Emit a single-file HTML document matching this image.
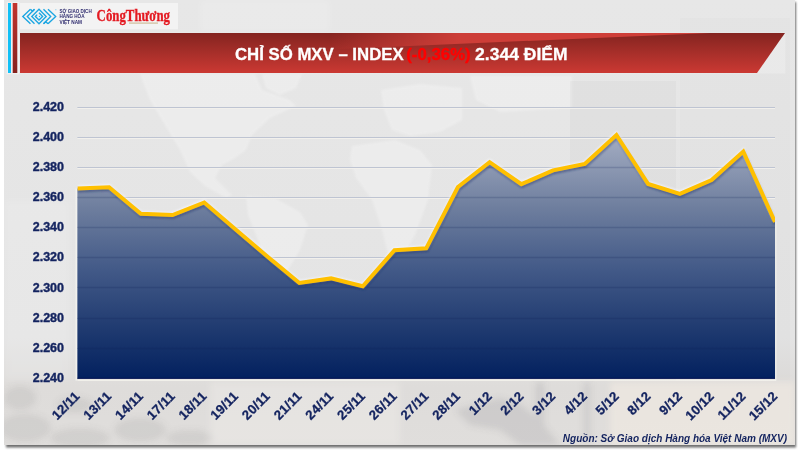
<!DOCTYPE html>
<html><head><meta charset="utf-8"><style>
html,body{margin:0;padding:0;background:#fff;}
body{width:800px;height:450px;overflow:hidden;}
svg{display:block;font-family:"Liberation Sans",sans-serif;will-change:transform;}
</style></head><body>
<svg width="800" height="450" viewBox="0 0 800 450">
<defs>
<linearGradient id="area" x1="0" y1="135" x2="0" y2="378" gradientUnits="userSpaceOnUse">
<stop offset="0" stop-color="#A4ADC2"/>
<stop offset="0.3" stop-color="#6E7E9E"/>
<stop offset="0.55" stop-color="#435A88"/>
<stop offset="0.8" stop-color="#1F3A70"/>
<stop offset="1" stop-color="#03215F"/>
</linearGradient>
<linearGradient id="banner" x1="0" y1="33" x2="0" y2="73" gradientUnits="userSpaceOnUse">
<stop offset="0" stop-color="#842420"/>
<stop offset="1" stop-color="#CB3933"/>
</linearGradient>
<linearGradient id="wedge" x1="330" y1="0" x2="700" y2="0" gradientUnits="userSpaceOnUse">
<stop offset="0" stop-color="#D4403A" stop-opacity="0"/>
<stop offset="0.35" stop-color="#D4403A" stop-opacity="0.9"/>
<stop offset="1" stop-color="#D4403A" stop-opacity="0.95"/>
</linearGradient>
<linearGradient id="redbar" x1="0" y1="0" x2="0" y2="1">
<stop offset="0" stop-color="#C2342E"/>
<stop offset="1" stop-color="#84221E"/>
</linearGradient>
<linearGradient id="bgv" x1="0" y1="0" x2="0" y2="450" gradientUnits="userSpaceOnUse">
<stop offset="0" stop-color="#E7E7E7"/>
<stop offset="0.75" stop-color="#E4E4E4"/>
<stop offset="0.86" stop-color="#DEDCDA"/>
<stop offset="1" stop-color="#E0DEDC"/>
</linearGradient>
<clipPath id="areaclip"><path d="M77.4,378.6 L77.4,188.6 L109.11,187.2 L140.82,213.8 L172.53,215.0 L204.24,202.5 L235.95,229.7 L267.65,256.7 L299.36,283.0 L331.07,278.4 L362.78,286.3 L394.49,250.3 L426.2,248.3 L457.91,187.0 L489.62,162.2 L521.33,184.2 L553.04,170.4 L584.75,164.0 L616.45,135.0 L648.16,184.0 L679.87,193.8 L711.58,180.0 L743.29,151.6 L775.0,222.0 L775.0,378.6 Z"/></clipPath>
<clipPath id="plotclip"><rect x="77.4" y="100" width="697.6" height="290"/></clipPath>
<clipPath id="cardclip"><rect x="4" y="0" width="791" height="445"/></clipPath>
<filter id="blur1" x="-5%" y="-20%" width="110%" height="140%"><feGaussianBlur stdDeviation="0.8"/></filter>
<filter id="blur3" x="-20%" y="-20%" width="140%" height="140%"><feGaussianBlur stdDeviation="3"/></filter>
</defs>
<!-- card shadow -->
<rect x="6" y="2" width="790" height="445.5" fill="#6E6E6E" filter="url(#blur1)"/>
<rect x="4" y="0" width="791" height="445" fill="url(#bgv)"/>
<g clip-path="url(#cardclip)">
<g fill="#FFFFFF" opacity="0.27" filter="url(#blur1)">
<path d="M140,74 L255,74 L262,90 L290,100 L296,106 L270,118 L252,135 L246,150 L232,160 L222,165 L215,178 L232,195 L226,198 L205,186 L190,172 L180,150 L165,125 L150,100 Z"/>
<path d="M262,74 L302,74 L296,88 L280,95 L266,88 Z"/>
<path d="M246,196 L275,198 L300,212 L308,225 L300,250 L285,275 L275,298 L268,298 L266,270 L258,240 L248,215 Z"/>
<path d="M381,90 L420,84 L462,88 L462,120 L440,132 L410,136 L392,130 L384,110 Z"/>
<path d="M352,146 L395,140 L420,150 L432,165 L428,200 L415,235 L400,262 L390,262 L382,230 L372,200 L356,178 L350,160 Z"/>
<path d="M470,76 L572,76 L572,108 L500,112 L476,100 Z"/>
</g>
<g fill="#FFFFFF" opacity="0.25" filter="url(#blur3)">
<path d="M200,0 L330,0 L330,32 L200,32 Z" opacity="0.6"/>
<path d="M4,200 L70,200 L70,380 L4,380 Z" opacity="0.5"/>
</g>
<g fill="#000000">
<rect x="570" y="81" width="106" height="300" opacity="0.025"/>
<rect x="680" y="18" width="110" height="362" opacity="0.012"/>
</g>
<g filter="url(#blur3)">
<g fill="#6E6A70" opacity="0.12">
<ellipse cx="25" cy="428" rx="26" ry="14"/>
<ellipse cx="80" cy="438" rx="30" ry="10"/>
<ellipse cx="140" cy="430" rx="26" ry="12"/>
<ellipse cx="20" cy="398" rx="16" ry="12"/>
<ellipse cx="75" cy="405" rx="18" ry="8"/>
<ellipse cx="190" cy="438" rx="24" ry="8"/>
</g>
<rect x="210" y="382" width="190" height="63" fill="#F4F2EE" opacity="0.35"/>
<g fill="#6E6E70" opacity="0.14">
<path d="M455,410 L500,398 L520,404 L540,420 L560,445 L520,445 L500,430 L470,425 Z"/>
<rect x="536" y="382" width="8" height="63"/>
<rect x="584" y="382" width="6" height="60"/>
</g>
<rect x="610" y="382" width="185" height="63" fill="#F8F0E4" opacity="0.45"/>
</g>

</g>
<!-- bars -->
<rect x="6.8" y="2" width="12.6" height="72.2" fill="#F2F4F4" opacity="0.8"/>
<rect x="8" y="3" width="3" height="70" fill="#12C0F6"/>
<rect x="12.7" y="3" width="4.6" height="70" fill="url(#redbar)"/>
<!-- logo box -->
<rect x="20" y="3" width="158" height="26.3" fill="#F3F3F3"/>
<g fill="none" stroke="#1BA6E2" stroke-width="1.35" stroke-linejoin="miter" stroke-linecap="butt">
<polyline points="30.46,9.25 22.8,16.46 30.46,23.67"/>
<polyline points="34.5,9.25 27.3,16.46 34.5,23.67"/>
<polyline points="30.46,9.25 32.5,11.3 34.5,9.25"/>
<polygon points="39.0,9.25 46.2,16.46 39.0,23.67 31.8,16.46"/>
<polyline points="43.5,9.25 50.7,16.46 43.5,23.67"/>
<polyline points="48.0,9.25 55.7,16.46 48.0,23.67"/>
<polyline points="43.5,23.67 45.8,21.64 48.0,23.67"/>
<polyline points="39.0,12.85 42.6,16.46 39.0,20.06 35.4,16.46 37.2,14.6"/>
</g>
<rect x="38.9" y="15.9" width="1.2" height="1.2" fill="#1BA6E2" transform="rotate(45 39.5 16.5)"/>
<rect x="55" y="9.5" width="1.5" height="0.7" fill="#7CC8EA"/>
<g font-weight="bold" font-size="4.9" fill="#2E2B6E">
<text x="59.5" y="13.1" textLength="32.2" lengthAdjust="spacingAndGlyphs">SỞ GIAO DỊCH</text>
<text x="59.5" y="18.3" textLength="25" lengthAdjust="spacingAndGlyphs">HÀNG HÓA</text>
<text x="59.5" y="23.5" textLength="22.5" lengthAdjust="spacingAndGlyphs">VIỆT NAM</text>
</g>
<text x="96.6" y="20.6" font-family="Liberation Serif" font-weight="bold" font-size="17.4" fill="#E41A22" stroke="#E41A22" stroke-width="0.35" textLength="73.4" lengthAdjust="spacingAndGlyphs">CôngThương</text>
<rect x="129" y="22.4" width="29" height="1.4" fill="#CDB894" opacity="0.8"/>
<!-- banner -->
<rect x="19.4" y="32.6" width="766" height="41" fill="#F0F0F0" opacity="0.5"/>
<path d="M20,33 L785,33 L757,73 L20,73 Z" fill="url(#banner)"/>
<path d="M20,33 L710,33 L20,63 Z" fill="url(#wedge)"/>
<g font-size="17" font-weight="bold" stroke-width="0.3">
<text x="235.0" y="59.7" fill="#fff" stroke="#fff" textLength="168.6" lengthAdjust="spacingAndGlyphs">CHỈ SỐ MXV – INDEX</text>
<text x="406.2" y="59.7" fill="#FF0000" stroke="#FF0000" textLength="64.5" lengthAdjust="spacingAndGlyphs">(-0,36%)</text>
<text x="475.1" y="59.7" fill="#fff" stroke="#fff" textLength="92.5" lengthAdjust="spacingAndGlyphs">2.344 ĐIỂM</text>
</g>
<!-- gridlines -->
<g stroke="#BEC4D2" stroke-width="1">
<line x1="77.4" y1="107.5" x2="775.0" y2="107.5"/>
<line x1="77.4" y1="137.5" x2="775.0" y2="137.5"/>
<line x1="77.4" y1="167.5" x2="775.0" y2="167.5"/>
<line x1="77.4" y1="197.5" x2="775.0" y2="197.5"/>
<line x1="77.4" y1="227.5" x2="775.0" y2="227.5"/>
<line x1="77.4" y1="257.5" x2="775.0" y2="257.5"/>
<line x1="77.4" y1="287.5" x2="775.0" y2="287.5"/>
<line x1="77.4" y1="318.5" x2="775.0" y2="318.5"/>
<line x1="77.4" y1="348.5" x2="775.0" y2="348.5"/>
</g>
<g stroke="#F2F0EC" stroke-width="1">
<line x1="77.4" y1="108.5" x2="775.0" y2="108.5"/>
<line x1="77.4" y1="138.5" x2="775.0" y2="138.5"/>
<line x1="77.4" y1="168.5" x2="775.0" y2="168.5"/>
<line x1="77.4" y1="198.5" x2="775.0" y2="198.5"/>
<line x1="77.4" y1="228.5" x2="775.0" y2="228.5"/>
<line x1="77.4" y1="258.5" x2="775.0" y2="258.5"/>
<line x1="77.4" y1="288.5" x2="775.0" y2="288.5"/>
<line x1="77.4" y1="319.5" x2="775.0" y2="319.5"/>
<line x1="77.4" y1="349.5" x2="775.0" y2="349.5"/>
</g>
<rect x="75.60000000000001" y="188.6" width="1.2" height="192.00000000000003" fill="#F4F4F0"/>
<rect x="775.3" y="222.0" width="1.2" height="158.60000000000002" fill="#EEEEEA"/>
<rect x="77.4" y="379.6" width="698.6" height="1.2" fill="#F6F4EE"/>
<path d="M77.4,378.6 L77.4,188.6 L109.11,187.2 L140.82,213.8 L172.53,215.0 L204.24,202.5 L235.95,229.7 L267.65,256.7 L299.36,283.0 L331.07,278.4 L362.78,286.3 L394.49,250.3 L426.2,248.3 L457.91,187.0 L489.62,162.2 L521.33,184.2 L553.04,170.4 L584.75,164.0 L616.45,135.0 L648.16,184.0 L679.87,193.8 L711.58,180.0 L743.29,151.6 L775.0,222.0 L775.0,378.6 Z" fill="url(#area)"/>
<g stroke="#0A1E55" stroke-opacity="0.18" stroke-width="1.3" clip-path="url(#areaclip)">
<line x1="77.4" y1="107.5" x2="775.0" y2="107.5"/>
<line x1="77.4" y1="137.5" x2="775.0" y2="137.5"/>
<line x1="77.4" y1="167.5" x2="775.0" y2="167.5"/>
<line x1="77.4" y1="197.5" x2="775.0" y2="197.5"/>
<line x1="77.4" y1="227.5" x2="775.0" y2="227.5"/>
<line x1="77.4" y1="257.5" x2="775.0" y2="257.5"/>
<line x1="77.4" y1="287.5" x2="775.0" y2="287.5"/>
<line x1="77.4" y1="318.5" x2="775.0" y2="318.5"/>
<line x1="77.4" y1="348.5" x2="775.0" y2="348.5"/>
</g>
<rect x="77.4" y="377.8" width="697.6" height="1" fill="#000F50"/>
<g clip-path="url(#plotclip)">
<polyline points="77.4,188.6 109.11,187.2 140.82,213.8 172.53,215.0 204.24,202.5 235.95,229.7 267.65,256.7 299.36,283.0 331.07,278.4 362.78,286.3 394.49,250.3 426.2,248.3 457.91,187.0 489.62,162.2 521.33,184.2 553.04,170.4 584.75,164.0 616.45,135.0 648.16,184.0 679.87,193.8 711.58,180.0 743.29,151.6 775.0,222.0" fill="none" stroke="#1E2F66" stroke-opacity="0.55" stroke-width="3.5" stroke-linejoin="miter" transform="translate(0.6,1.8)" filter="url(#blur1)"/>
<polyline points="77.4,188.6 109.11,187.2 140.82,213.8 172.53,215.0 204.24,202.5 235.95,229.7 267.65,256.7 299.36,283.0 331.07,278.4 362.78,286.3 394.49,250.3 426.2,248.3 457.91,187.0 489.62,162.2 521.33,184.2 553.04,170.4 584.75,164.0 616.45,135.0 648.16,184.0 679.87,193.8 711.58,180.0 743.29,151.6 775.0,222.0" fill="none" stroke="#F6F8FF" stroke-opacity="0.7" stroke-width="4" stroke-linejoin="miter" transform="translate(0,-1.1)" filter="url(#blur1)"/>
<polyline points="77.4,188.6 109.11,187.2 140.82,213.8 172.53,215.0 204.24,202.5 235.95,229.7 267.65,256.7 299.36,283.0 331.07,278.4 362.78,286.3 394.49,250.3 426.2,248.3 457.91,187.0 489.62,162.2 521.33,184.2 553.04,170.4 584.75,164.0 616.45,135.0 648.16,184.0 679.87,193.8 711.58,180.0 743.29,151.6 775.0,222.0" fill="none" stroke="#FFC000" stroke-width="4" stroke-linejoin="miter"/>
</g>
<g font-size="12.8" font-weight="bold" fill="#13235F" stroke="#13235F" stroke-width="0.42" text-anchor="end">
<text x="64" y="110.6" textLength="31.2" lengthAdjust="spacingAndGlyphs">2.420</text>
<text x="64" y="140.8" textLength="31.2" lengthAdjust="spacingAndGlyphs">2.400</text>
<text x="64" y="170.9" textLength="31.2" lengthAdjust="spacingAndGlyphs">2.380</text>
<text x="64" y="201.0" textLength="31.2" lengthAdjust="spacingAndGlyphs">2.360</text>
<text x="64" y="231.2" textLength="31.2" lengthAdjust="spacingAndGlyphs">2.340</text>
<text x="64" y="261.4" textLength="31.2" lengthAdjust="spacingAndGlyphs">2.320</text>
<text x="64" y="291.5" textLength="31.2" lengthAdjust="spacingAndGlyphs">2.300</text>
<text x="64" y="321.6" textLength="31.2" lengthAdjust="spacingAndGlyphs">2.280</text>
<text x="64" y="351.8" textLength="31.2" lengthAdjust="spacingAndGlyphs">2.260</text>
<text x="64" y="381.9" textLength="31.2" lengthAdjust="spacingAndGlyphs">2.240</text>
</g>
<g font-size="13.1" font-weight="bold" fill="#13235F" stroke="#13235F" stroke-width="0.32" text-anchor="end" letter-spacing="0.25">
<text transform="translate(80.7,396.9) rotate(-45)">12/11</text>
<text transform="translate(112.4,396.9) rotate(-45)">13/11</text>
<text transform="translate(144.1,396.9) rotate(-45)">14/11</text>
<text transform="translate(175.8,396.9) rotate(-45)">17/11</text>
<text transform="translate(207.5,396.9) rotate(-45)">18/11</text>
<text transform="translate(239.2,396.9) rotate(-45)">19/11</text>
<text transform="translate(270.9,396.9) rotate(-45)">20/11</text>
<text transform="translate(302.7,396.9) rotate(-45)">21/11</text>
<text transform="translate(334.4,396.9) rotate(-45)">24/11</text>
<text transform="translate(366.1,396.9) rotate(-45)">25/11</text>
<text transform="translate(397.8,396.9) rotate(-45)">26/11</text>
<text transform="translate(429.5,396.9) rotate(-45)">27/11</text>
<text transform="translate(461.2,396.9) rotate(-45)">28/11</text>
<text transform="translate(492.9,396.9) rotate(-45)">1/12</text>
<text transform="translate(524.6,396.9) rotate(-45)">2/12</text>
<text transform="translate(556.3,396.9) rotate(-45)">3/12</text>
<text transform="translate(588.0,396.9) rotate(-45)">4/12</text>
<text transform="translate(619.8,396.9) rotate(-45)">5/12</text>
<text transform="translate(651.5,396.9) rotate(-45)">8/12</text>
<text transform="translate(683.2,396.9) rotate(-45)">9/12</text>
<text transform="translate(714.9,396.9) rotate(-45)">10/12</text>
<text transform="translate(746.6,396.9) rotate(-45)">11/12</text>
<text transform="translate(778.3,396.9) rotate(-45)">15/12</text>
</g>
<text x="787" y="441.5" font-size="10" font-weight="bold" font-style="italic" fill="#13235F" text-anchor="end">Nguồn: Sở Giao dịch Hàng hóa Việt Nam (MXV)</text>
</svg>
</body></html>
